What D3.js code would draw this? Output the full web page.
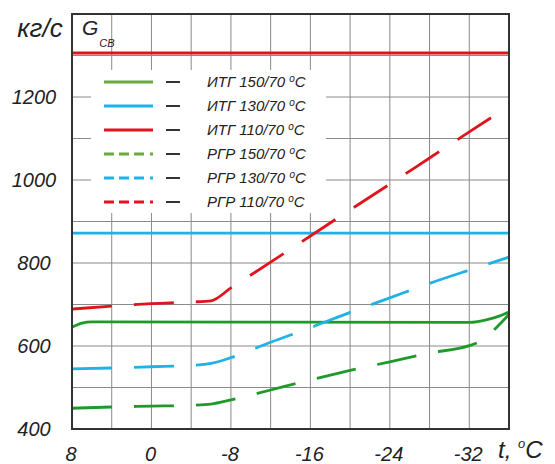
<!DOCTYPE html>
<html>
<head>
<meta charset="utf-8">
<script src="https://cdn.jsdelivr.net/npm/d3@7"></script>
<style>
  body { margin: 0; background: #fff; }
  text { font-family: "Liberation Sans", Arial, sans-serif; font-style: italic; fill: #222; }
</style>
</head>
<body>
<div id="chart"></div>
<script>
// temperatures, °C
const T_FULL = [8, -36]

// ИТГ (solid)
const itg110 = [[8, 1306], [-36, 1306]]
const itg130 = [[8, 872], [-36, 872]]
const itg150 = [[8, 645], [7, 655], [6, 658], [-32, 657], [-34, 665], [-35, 672], [-36, 682]]

// РГР (dashed)
const rgr110 = [[8, 689], [4, 696], [0, 702], [-4, 706], [-6, 709], [-8, 740], [-12, 802], [-16, 865],
                [-20, 928], [-24, 990], [-28, 1053], [-32, 1116], [-36, 1178]]
const rgr130 = [[8, 545], [4, 547], [0, 550], [-4, 553], [-6, 558], [-8, 572], [-12, 609], [-16, 644],
                [-20, 681], [-24, 716], [-28, 751], [-32, 783], [-36, 814]]
const rgr150 = [[8, 450], [4, 453], [0, 455], [-4, 457], [-6, 460], [-8, 470], [-12, 494], [-16, 518],
                [-20, 541], [-24, 562], [-28, 583], [-32, 601], [-33, 610], [-34, 628], [-35, 651], [-36, 676]]

const xGrid = d3.range(8, -37, -4)
const xLabels = [8, 0, -8, -16, -24, -32]
const yGrid = d3.range(400, 1401, 100)
const yLabels = [400, 600, 800, 1000, 1200]

const legendNames = ["ИТГ 150/70", "ИТГ 130/70", "ИТГ 110/70", "РГР 150/70", "РГР 130/70", "РГР 110/70"]

const GREEN = "#1f9a2a", BLUE = "#1fb2e6", RED = "#e0141c"
const LEG_GREEN = "#6aaa40"

const series = [
    { data: itg150, color: GREEN, legColor: LEG_GREEN, dashed: false },
    { data: itg130, color: BLUE, legColor: BLUE, dashed: false },
    { data: itg110, color: RED, legColor: RED, dashed: false },
    { data: rgr150, color: GREEN, legColor: LEG_GREEN, dashed: true },
    { data: rgr130, color: BLUE, legColor: BLUE, dashed: true },
    { data: rgr110, color: RED, legColor: RED, dashed: true },
]

const W = 555, H = 464
const plot = { left: 72, right: 509, top: 14, bottom: 429 }

const svg = d3.select("#chart").append("svg")
    .attr("width", W).attr("height", H)

const x = d3.scaleLinear().domain(T_FULL).range([plot.left, plot.right])
const y = d3.scaleLinear().domain([400, 1400]).range([plot.bottom, plot.top])

// grid
const grid = svg.append("g").attr("stroke", "#8a8a8a").attr("stroke-width", 1)
grid.selectAll(".vx").data(xGrid).enter().append("line")
    .attr("x1", d => x(d)).attr("x2", d => x(d))
    .attr("y1", plot.top).attr("y2", plot.bottom)
grid.selectAll(".hy").data(yGrid).enter().append("line")
    .attr("x1", plot.left).attr("x2", plot.right)
    .attr("y1", d => y(d)).attr("y2", d => y(d))

// legend background hides grid
svg.append("rect")
    .attr("x", 91).attr("y", 70).attr("width", 235).attr("height", 143)
    .attr("fill", "#fff")

// lines
const line = d3.line()
    .x(d => x(d[0]))
    .y(d => y(d[1]))
    .curve(d3.curveMonotoneX)

svg.append("g").attr("fill", "none")
    .selectAll("path").data(series).enter().append("path")
    .attr("d", d => line(d.data))
    .attr("stroke", d => d.color)
    .attr("stroke-width", 2.8)
    .attr("stroke-dasharray", d => d.dashed ? "40,22" : null)

// frame
svg.append("rect")
    .attr("x", plot.left).attr("y", plot.top)
    .attr("width", plot.right - plot.left).attr("height", plot.bottom - plot.top)
    .attr("fill", "none").attr("stroke", "#333").attr("stroke-width", 2)

// tick labels
svg.append("g").selectAll("text").data(yLabels).enter().append("text")
    .attr("x", 34).attr("y", d => y(d)).attr("dy", "0.36em")
    .attr("text-anchor", "middle").attr("font-size", 20)
    .text(d => d)

svg.append("g").selectAll("text").data(xLabels).enter().append("text")
    .attr("x", d => x(d) - 1).attr("y", 454).attr("dy", "0.36em")
    .attr("text-anchor", "middle").attr("font-size", 20)
    .text(d => d)

// axis titles
svg.append("text").attr("x", 40).attr("y", 37)
    .attr("text-anchor", "middle").attr("font-size", 26).text("кг/с")

const g = svg.append("text").attr("x", 82).attr("y", 35).attr("font-size", 21)
g.append("tspan").text("G")
g.append("tspan").attr("font-size", 11).attr("dy", 12).attr("dx", 1).text("СВ")

const tt = svg.append("text").attr("x", 498).attr("y", 458).attr("font-size", 24)
tt.append("tspan").text("t, ")
tt.append("tspan").attr("font-size", 13).attr("dy", -10).text("o")
tt.append("tspan").attr("dy", 10).text("C")

// legend
const leg = svg.append("g").selectAll("g").data(series).enter().append("g")
    .attr("transform", (d, i) => "translate(0," + (82 + i * 24) + ")")

leg.append("line")
    .attr("x1", 104).attr("x2", 153)
    .attr("stroke", d => d.legColor).attr("stroke-width", 3)
    .attr("stroke-dasharray", d => d.dashed ? "10,5,10,5,10,6,3,50" : null)

leg.append("line")
    .attr("x1", 166).attr("x2", 180)
    .attr("stroke", "#333").attr("stroke-width", 2)

const lt = leg.append("text").attr("x", 207).attr("y", 0).attr("dy", "0.36em").attr("font-size", 15)
lt.append("tspan").text((d, i) => legendNames[i] + " ")
lt.append("tspan").attr("font-size", 10).attr("dy", -5).text("o")
lt.append("tspan").attr("dy", 5).text("C")
</script>
</body>
</html>
